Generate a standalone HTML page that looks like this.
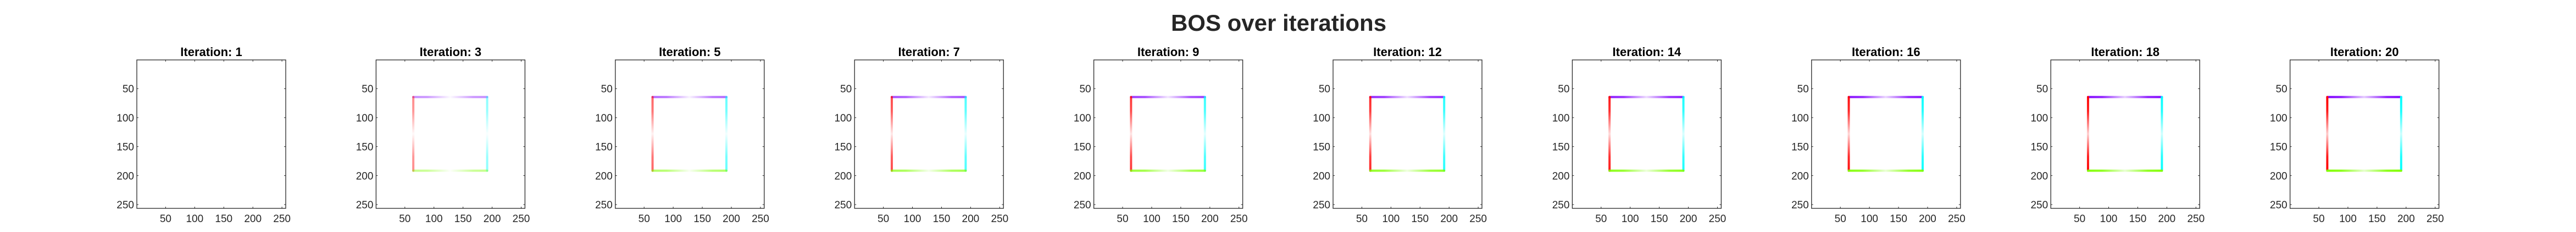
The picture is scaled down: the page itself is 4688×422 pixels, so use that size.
<!DOCTYPE html>
<html><head><meta charset="utf-8"><style>
html,body{margin:0;padding:0;background:#fff;width:4688px;height:422px;overflow:hidden}
svg text{font-family:"Liberation Sans",Arial,sans-serif}
</style></head><body>
<svg id="fig" width="4688" height="422" xmlns="http://www.w3.org/2000/svg">
<rect width="4688" height="422" fill="#fff"/>
<text x="2327" y="56" text-anchor="middle" font-size="42" font-weight="bold" fill="#262626">BOS over iterations</text>
</svg>
<script>
const iterations = [1,3,5,7,9,12,14,16,18,20];
const endIntensity = [0,0.45,0.6,0.7,0.78,0.85,0.9,0.94,0.97,1];
const midIntensity = [0,0.02,0.05,0.08,0.1,0.12,0.14,0.16,0.18,0.2];
const squareMin = [64.5,64.5,64.5,64.5,64.5,64.5,64.5,64.5,64.5,64.5];
const squareMax = [191.5,191.5,191.5,191.5,191.5,191.5,191.5,191.5,191.5,191.5];
const tickValues = [50,100,150,200,250];
const edgeColors = ['#8000ff','#ff0000','#00ffff','#80ff00'];

const NS='http://www.w3.org/2000/svg';
const svg=document.getElementById('fig');
function mk(tag,attrs,parent){const e=document.createElementNS(NS,tag);for(const k in attrs)e.setAttribute(k,attrs[k]);(parent||svg).appendChild(e);return e;}
const defs=mk('defs',{});
const W=271,H=270,TOP=109,LEFT0=249,STEP=435.4;
iterations.forEach((it,i)=>{
  const L=LEFT0+i*STEP;
  const sx=v=>L+(v-0.5)/256*W;
  const sy=v=>TOP+(v-0.5)/256*H;
  const g=mk('g',{});
  
  
  const t=mk('text',{x:L+W/2,y:102,'text-anchor':'middle','font-size':22,'font-weight':'bold',fill:'#000'},g);
  t.textContent='Iteration: '+it;
  
  
  // edges
  const a=squareMin[i],b=squareMax[i],e=endIntensity[i],m=midIntensity[i];
  if(e>0){
    const edges=[[a,a,b,a],[a,a,a,b],[b,a,b,b],[a,b,b,b]];
    edges.forEach((ed,k)=>{
      const id='gr'+i+'_'+k;
      const horiz=ed[1]===ed[3];
      const gr=mk('linearGradient',{id:id,x1:0,y1:0,x2:horiz?1:0,y2:horiz?0:1},defs);
      [[0,e],[0.2,e*0.9],[0.5,m],[0.8,e*0.9],[1,e]].forEach(s=>mk('stop',{offset:s[0],'stop-color':edgeColors[k],'stop-opacity':s[1]},gr));
      const x1=sx(ed[0]),y1=sy(ed[1]),x2=sx(ed[2]),y2=sy(ed[3]);
      const r=mk('rect',{x:Math.min(x1,x2)-2,y:Math.min(y1,y2)-2,width:Math.abs(x2-x1)+4,height:Math.abs(y2-y1)+4,rx:2,fill:'url(#'+id+')'},g);
      
      
    });
  }
  const box=mk('rect',{x:L,y:TOP,width:W,height:H,fill:'none',stroke:'#262626','stroke-width':1.3},g);
  
  
  tickValues.forEach(v=>{
    const x=sx(v),y=sy(v);
    mk('line',{x1:x,y1:TOP+H,x2:x,y2:TOP+H-3,stroke:'#262626'},g);
    mk('line',{x1:x,y1:TOP,x2:x,y2:TOP+3,stroke:'#262626'},g);
    mk('line',{x1:L,y1:y,x2:L+3,y2:y,stroke:'#262626'},g);
    mk('line',{x1:L+W,y1:y,x2:L+W-3,y2:y,stroke:'#262626'},g);
    const xt=mk('text',{x:x,y:404,'text-anchor':'middle','font-size':19,fill:'#262626'},g);
    xt.textContent=v;
    
    
    const yt=mk('text',{x:L-5,y:y+7,'text-anchor':'end','font-size':19,fill:'#262626'},g);
    yt.textContent=v;
    
    
  });
});
</script>
</body></html>
